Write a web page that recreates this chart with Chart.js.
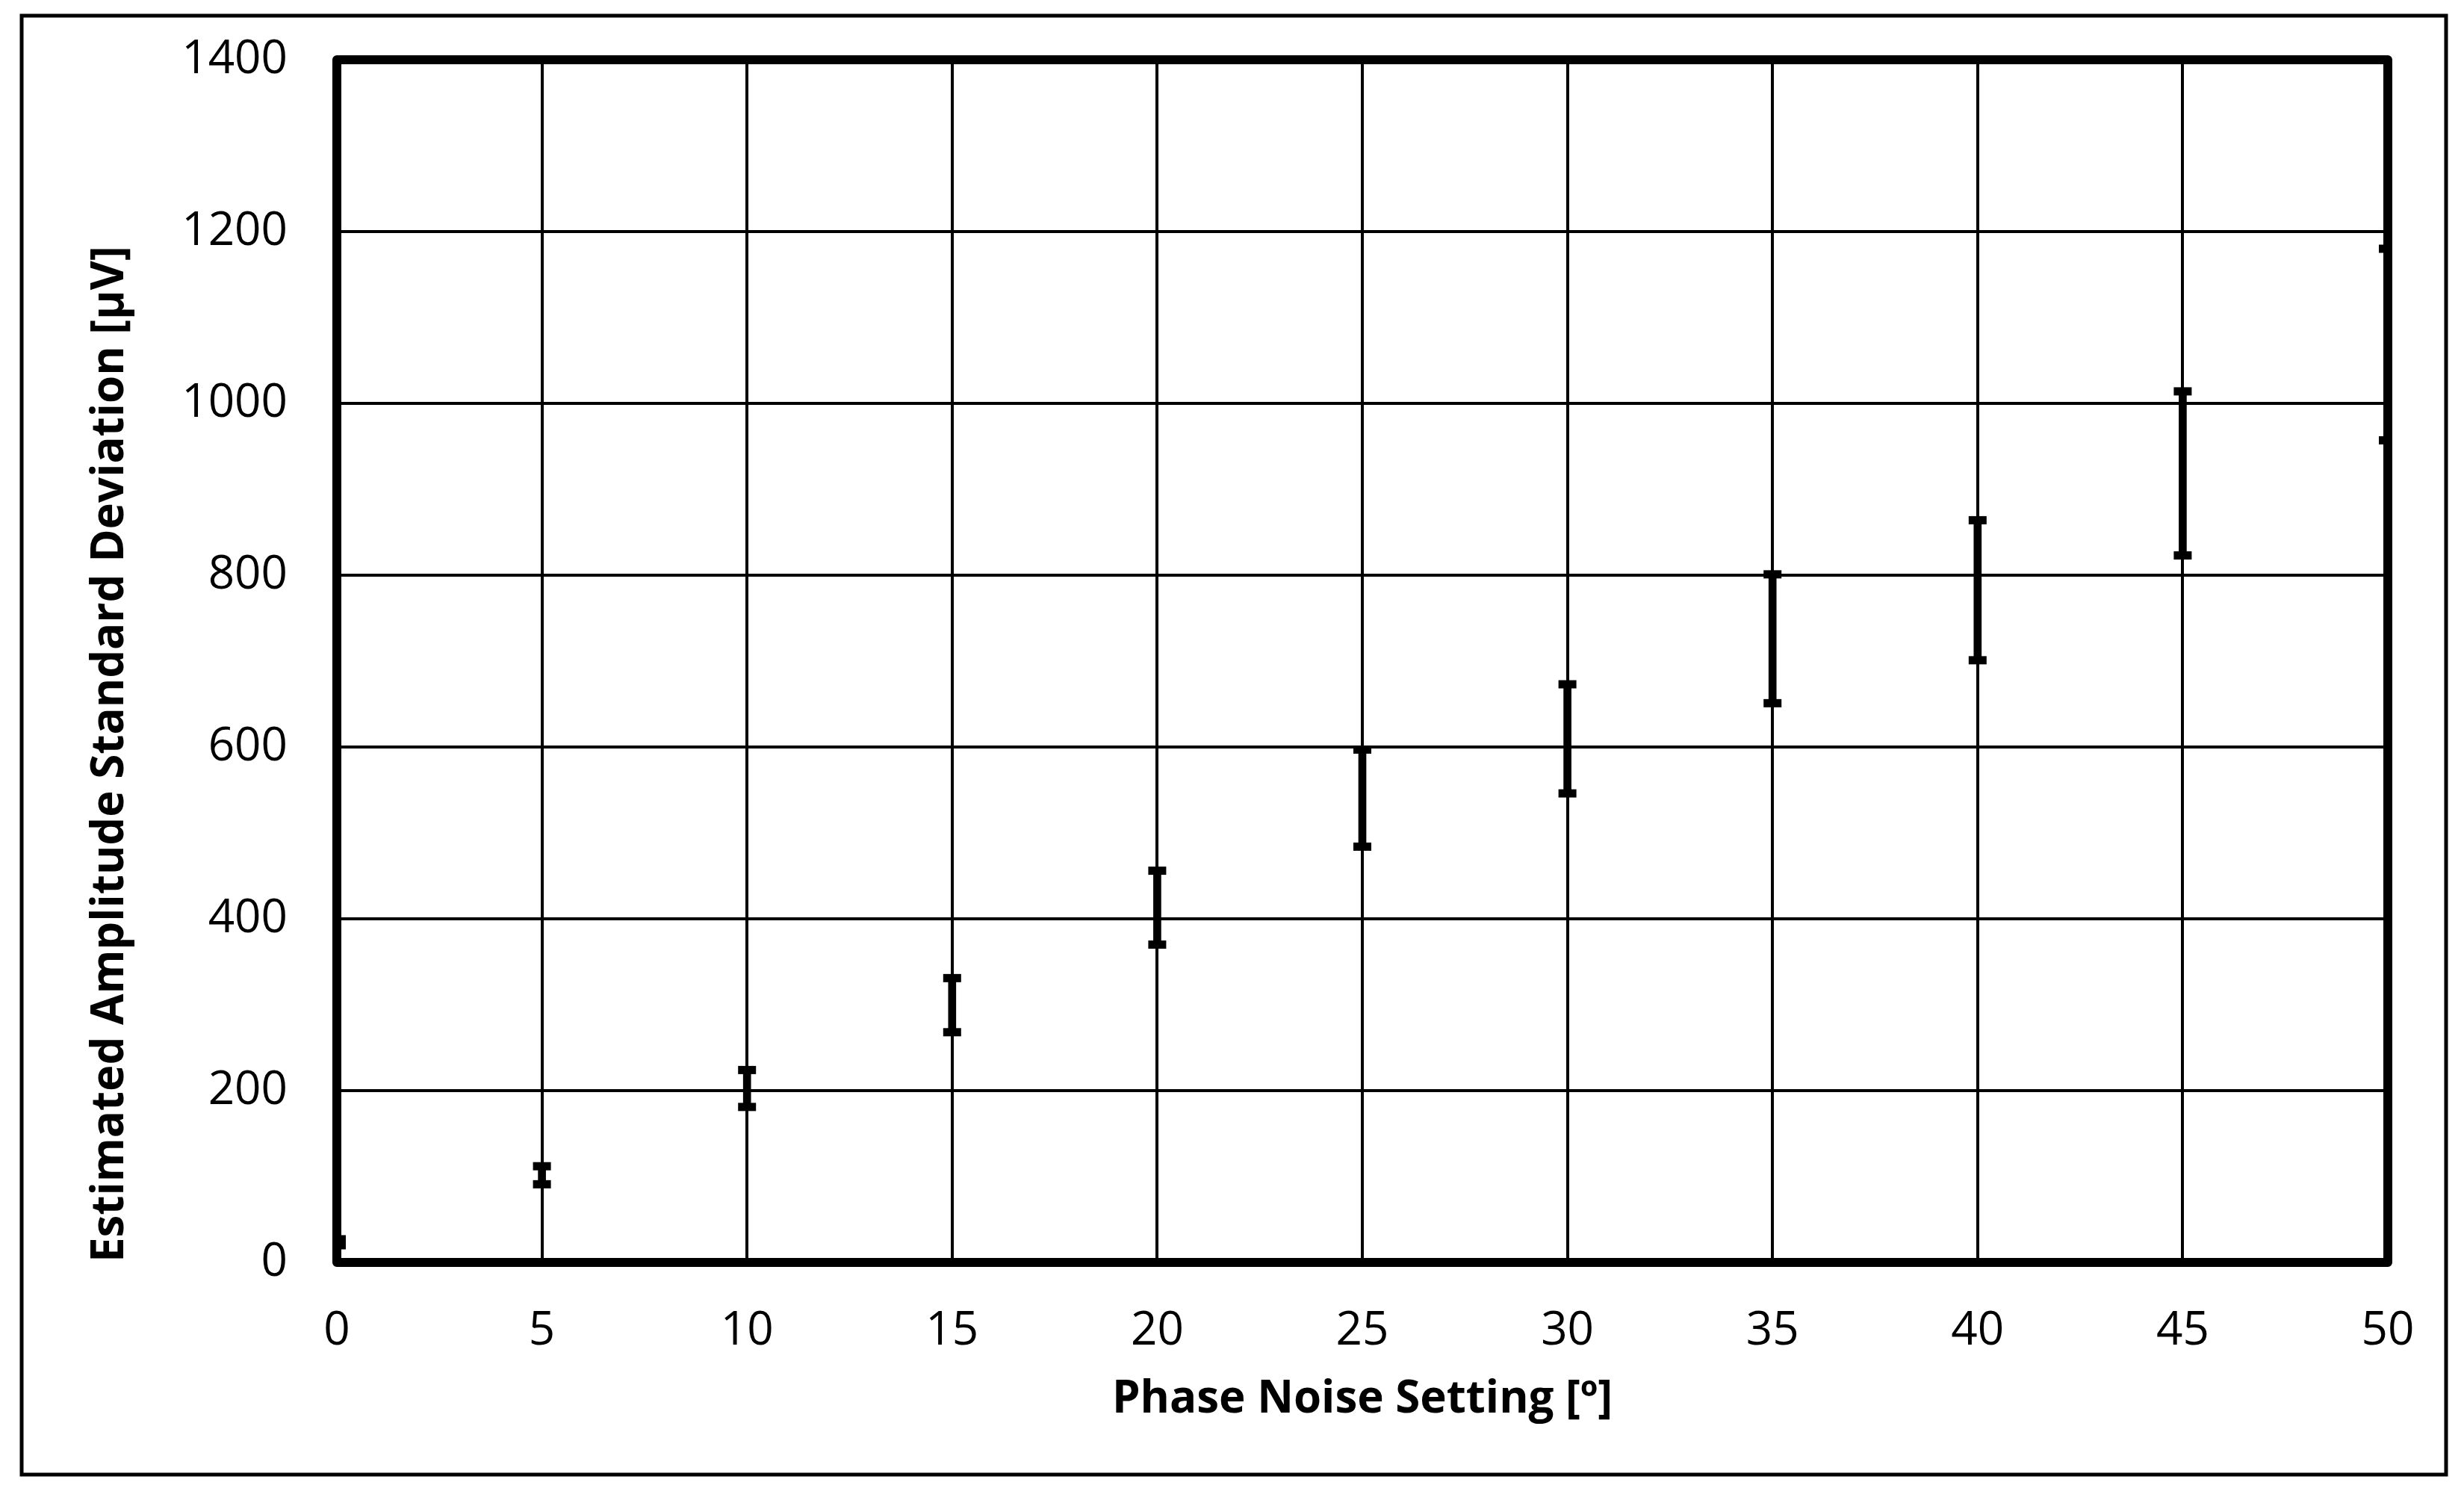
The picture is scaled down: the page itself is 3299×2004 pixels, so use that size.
<!DOCTYPE html>
<html>
<head>
<meta charset="utf-8">
<script src="https://cdn.jsdelivr.net/npm/chart.js@4/dist/chart.umd.min.js"></script>
<style>
  html, body { margin: 0; padding: 0; background: #ffffff; }
  canvas { display: block; }
</style>
</head>
<body>
<canvas id="c" width="3299" height="2004"></canvas>
<script>
// Phase noise setting (degrees)
const phaseSettings = [0, 5, 10, 15, 20, 25, 30, 35, 40, 45, 50];
// Lower and upper ends of the error bars (µV)
const lowValues  = [20, 91, 181, 268, 370, 484, 546, 651, 701, 823, 957];
const highValues = [27, 112, 224, 331, 456, 597, 673, 801, 864, 1014, 1180];
// Tick labels
const xTickValues = [0, 5, 10, 15, 20, 25, 30, 35, 40, 45, 50];
const yTickValues = [0, 200, 400, 600, 800, 1000, 1200, 1400];
const xTitle = 'Phase Noise Setting [º]';
const yTitle = 'Estimated Amplitude Standard Deviation [μV]';

const stemData = phaseSettings.map((x, i) => ({ x: x, y: [lowValues[i], highValues[i]] }));
const capData = [];
phaseSettings.forEach((x, i) => {
  capData.push({ x: x, y: lowValues[i] });
  capData.push({ x: x, y: highValues[i] });
});

const framePlugin = {
  id: 'frames',
  afterDatasetsDraw(chart) {
    const ctx = chart.ctx;
    const a = chart.chartArea;
    ctx.save();
    ctx.strokeStyle = '#000';
    ctx.lineJoin = 'round';
    ctx.lineWidth = 12;
    ctx.strokeRect(a.left, a.top, a.right - a.left, a.bottom - a.top);
    ctx.restore();
  },
  afterDraw(chart) {
    const ctx = chart.ctx;
    ctx.save();
    ctx.strokeStyle = '#000';
    ctx.lineWidth = 5;
    ctx.strokeRect(29, 21, 3275 - 29, 1974 - 21);
    ctx.restore();
  }
};

const tickFont = { family: '"Open Sans", sans-serif', size: 62, lineHeight: 1.2 };
const titleFont = { family: '"Open Sans", sans-serif', size: 60, weight: 'bold', lineHeight: 1.2 };

new Chart(document.getElementById('c'), {
  type: 'bar',
  data: {
    datasets: [
      {
        type: 'bar',
        data: stemData,
        backgroundColor: '#000',
        borderWidth: 0,
        barThickness: 10,
        clip: 0
      },
      {
        type: 'scatter',
        data: capData,
        showLine: false,
        pointStyle: 'line',
        pointRadius: 12,
        pointHoverRadius: 12,
        pointBorderWidth: 11,
        borderColor: '#000',
        backgroundColor: '#000',
        clip: 0
      }
    ]
  },
  options: {
    responsive: false,
    devicePixelRatio: 1,
    animation: false,
    events: [],
    layout: { padding: { top: 80, right: 102, bottom: 0, left: 0 } },
    plugins: { legend: { display: false }, tooltip: { enabled: false } },
    scales: {
      x: {
        type: 'linear',
        min: 0,
        max: 50,
        offset: false,
        grid: { color: '#000', lineWidth: 4, drawTicks: true, tickLength: 50, tickColor: 'rgba(0,0,0,0)', offset: false },
        border: { display: false },
        afterBuildTicks: (scale) => { scale.ticks = xTickValues.map(v => ({ value: v })); },
        afterFit: (scale) => { scale.height = 314; },
        ticks: {
          color: '#000',
          font: tickFont,
          padding: 5,
          maxRotation: 0,
          autoSkip: false,
          callback: (v) => String(v)
        },
        title: {
          display: true,
          text: xTitle,
          color: '#000',
          font: titleFont,
          padding: { top: 0, bottom: 94 }
        }
      },
      y: {
        type: 'linear',
        min: 0,
        max: 1400,
        grid: { color: '#000', lineWidth: 4, drawTicks: true, tickLength: 60, tickColor: 'rgba(0,0,0,0)' },
        border: { display: false },
        afterBuildTicks: (scale) => { scale.ticks = yTickValues.map(v => ({ value: v })); },
        afterFit: (scale) => { scale.width = 451; },
        ticks: {
          color: '#000',
          font: tickFont,
          padding: 6,
          autoSkip: false,
          callback: (v) => String(v)
        },
        title: {
          display: true,
          text: yTitle,
          color: '#000',
          font: titleFont,
          align: 'start',
          padding: { top: 112, bottom: 0 }
        }
      }
    }
  },
  plugins: [framePlugin]
});
</script>
</body>
</html>
